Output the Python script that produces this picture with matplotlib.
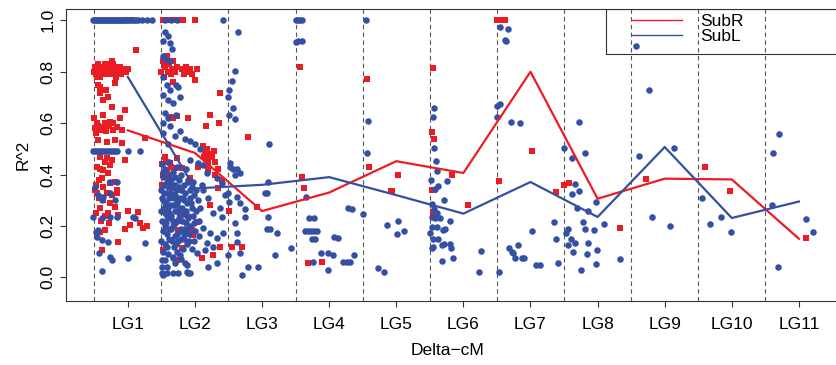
import matplotlib
matplotlib.use("Agg")
import matplotlib.pyplot as plt
from matplotlib.lines import Line2D
from matplotlib.patches import Rectangle

plt.rcParams['font.family'] = ['Liberation Sans', 'DejaVu Sans']

# linkage groups and per-group mean R^2 of each subgenome
lg_pos = [1, 2, 3, 4, 5, 6, 7, 8, 9, 10, 11]
lg_labels = ['LG1', 'LG2', 'LG3', 'LG4', 'LG5', 'LG6', 'LG7', 'LG8', 'LG9', 'LG10', 'LG11']
subr_mean = [0.572, 0.484, 0.258, 0.330, 0.452, 0.406, 0.800, 0.306, 0.384, 0.381, 0.150]
subl_mean = [0.780, 0.346, 0.360, 0.390, 0.320, 0.248, 0.371, 0.235, 0.507, 0.231, 0.295]

# single marker pairs (position, R^2), SubR
subr_points = [
    # LG1
    (0.50, 0.80), (0.51, 0.82), (0.52, 0.79), (0.53, 0.81), (0.55, 0.83), (0.56, 0.80), (0.58, 0.82),
    (0.60, 0.79), (0.62, 0.81), (0.64, 0.80), (0.66, 0.83), (0.68, 0.81), (0.70, 0.80), (0.72, 0.82),
    (0.74, 0.79), (0.76, 0.81), (0.78, 0.83), (0.80, 0.80), (0.82, 0.81), (0.84, 0.82), (0.86, 0.80),
    (0.88, 0.81), (0.90, 0.79), (0.92, 0.80), (0.95, 0.81), (0.98, 0.80), (1.01, 0.81), (0.54, 0.78),
    (0.59, 0.78), (0.65, 0.79), (0.71, 0.83), (0.77, 0.84), (0.83, 0.78), (0.89, 0.82),
    (1.01, 1.0), (1.05, 1.0), (1.12, 0.885),
    (0.59, 0.74), (0.68, 0.73), (0.81, 0.755), (0.63, 0.69), (0.70, 0.70), (0.56, 0.748),
    (0.59, 0.716), (0.76, 0.664), (0.63, 0.63), (0.96, 0.65), (0.54, 0.60), (0.73, 0.605), (0.84, 0.586),
    (0.88, 0.62), (0.51, 0.58), (0.56, 0.59), (0.60, 0.575), (0.64, 0.585), (0.68, 0.57), (0.72, 0.59),
    (0.78, 0.575), (0.91, 0.573), (1.26, 0.541), (0.56, 0.534), (0.69, 0.528), (0.81, 0.534), (0.91, 0.521),
    (0.59, 0.47), (0.69, 0.463), (0.76, 0.456), (0.96, 0.456), (0.54, 0.43), (0.63, 0.417), (0.73, 0.437),
    (0.62, 0.385), (0.70, 0.405), (0.63, 0.353), (0.73, 0.366), (0.81, 0.372), (0.51, 0.34), (0.69, 0.327),
    (0.84, 0.34), (0.54, 0.327), (0.63, 0.301), (0.84, 0.327), (0.59, 0.268), (0.81, 0.275), (0.70, 0.249),
    (0.85, 0.242), (1.00, 0.259), (1.15, 0.253), (0.59, 0.177), (0.66, 0.184), (0.85, 0.139), (1.03, 0.204),
    (0.96, 0.187), (1.18, 0.21), (1.23, 0.191), (1.29, 0.20), (0.62, 0.106), (0.52, 0.36), (0.57, 0.31),
    (0.66, 0.24), (0.74, 0.29), (0.60, 0.22), (0.54, 0.17), (0.50, 0.62), (0.52, 0.56), (0.66, 0.60),
    (0.78, 0.60), (0.58, 0.42), (0.66, 0.45), (0.57, 0.38), (0.77, 0.32), (0.52, 0.25), (0.72, 0.21),
    # LG2
    (1.52, 1.0), (1.60, 1.0), (1.66, 1.0), (1.70, 1.0), (1.75, 1.0), (1.79, 1.0), (1.82, 1.0), (2.00, 1.0),
    (1.50, 0.80), (1.52, 0.84), (1.54, 0.78), (1.56, 0.82), (1.58, 0.86), (1.60, 0.80), (1.62, 0.83),
    (1.64, 0.79), (1.66, 0.81), (1.68, 0.84), (1.71, 0.80), (1.74, 0.82), (1.81, 0.81), (1.84, 0.79),
    (1.87, 0.82), (1.90, 0.80), (1.93, 0.81), (1.96, 0.79), (2.03, 0.81), (2.00, 0.767), (1.68, 0.761),
    (2.37, 0.717), (1.63, 0.625), (1.68, 0.62), (1.74, 0.627), (1.90, 0.62), (2.22, 0.63), (2.17, 0.59),
    (2.36, 0.60), (2.12, 0.51), (2.15, 0.49), (2.18, 0.50), (2.22, 0.48), (2.25, 0.47), (2.28, 0.49),
    (2.20, 0.46), (2.30, 0.45), (2.14, 0.47), (2.20, 0.437), (2.20, 0.417), (2.34, 0.42), (2.30, 0.40),
    (2.40, 0.379), (2.34, 0.346), (1.55, 0.47), (1.63, 0.444), (1.73, 0.464), (1.58, 0.417), (1.70, 0.425),
    (1.52, 0.398), (1.81, 0.425), (2.05, 0.43), (1.93, 0.386), (1.67, 0.347), (1.81, 0.34), (2.22, 0.281),
    (1.60, 0.27), (1.85, 0.242), (1.97, 0.165), (2.03, 0.216), (1.55, 0.216), (1.75, 0.184), (1.63, 0.145),
    (1.52, 0.106), (1.81, 0.114), (2.11, 0.074), (2.27, 0.087), (1.96, 0.184), (1.73, 0.067), (2.37, 0.12),
    (1.51, 0.44), (1.54, 0.41), (1.57, 0.45), (1.60, 0.39), (1.65, 0.43), (1.51, 0.36),
    # LG3
    (2.79, 0.547), (2.51, 0.26), (2.93, 0.275), (2.55, 0.117), (2.70, 0.117),
    # LG4
    (3.57, 0.82), (3.60, 0.389), (3.63, 0.346), (3.69, 0.057), (3.89, 0.06),
    # LG5
    (4.57, 0.772), (4.60, 0.43), (4.92, 0.337), (4.94, 0.337), (5.03, 0.398),
    # LG6
    (5.55, 0.813), (5.53, 0.566), (5.56, 0.537), (5.53, 0.34), (5.56, 0.339), (5.55, 0.255), (5.61, 0.242),
    (5.83, 0.40), (6.07, 0.281),
    # LG7
    (6.50, 1.0), (6.53, 1.0), (6.56, 1.0), (6.59, 1.0), (6.62, 1.0), (6.53, 0.375), (7.02, 0.491), (7.38, 0.332),
    # LG8 - LG11
    (7.50, 0.361), (7.58, 0.368), (8.34, 0.193), (8.72, 0.384), (9.60, 0.43), (9.97, 0.337), (11.11, 0.152),
]

# SubL
subl_points = [
    # LG1
    (0.48, 1.0), (0.50, 1.0), (0.52, 1.0), (0.54, 1.0), (0.56, 1.0), (0.58, 1.0), (0.60, 1.0), (0.62, 1.0),
    (0.64, 1.0), (0.66, 1.0), (0.68, 1.0), (0.70, 1.0), (0.72, 1.0), (0.74, 1.0), (0.76, 1.0), (0.78, 1.0),
    (0.80, 1.0), (0.82, 1.0), (0.84, 1.0), (0.86, 1.0), (0.88, 1.0), (0.90, 1.0), (0.92, 1.0), (0.94, 1.0),
    (0.96, 1.0), (0.98, 1.0), (1.00, 1.0), (1.03, 1.0), (1.06, 1.0), (1.09, 1.0), (1.12, 1.0), (1.15, 1.0),
    (1.21, 1.0), (1.29, 1.0), (1.36, 1.0),
    (0.48, 0.49), (0.51, 0.49), (0.54, 0.49), (0.57, 0.49), (0.60, 0.49), (0.63, 0.49), (0.66, 0.49),
    (0.69, 0.49), (0.72, 0.49), (0.75, 0.49), (0.78, 0.49), (0.81, 0.49), (0.84, 0.49), (1.00, 0.49), (1.18, 0.49),
    (0.51, 0.353), (0.73, 0.37), (0.84, 0.372), (0.62, 0.30), (0.59, 0.313), (0.81, 0.30), (0.73, 0.327),
    (0.56, 0.32), (0.63, 0.314), (0.48, 0.236), (0.62, 0.231), (0.73, 0.235), (0.84, 0.236), (1.08, 0.233),
    (1.11, 0.23), (0.53, 0.177), (0.54, 0.158), (0.62, 0.145), (0.70, 0.139), (1.26, 0.132), (0.57, 0.096),
    (0.73, 0.08), (0.76, 0.067), (1.00, 0.074), (0.62, 0.025), (0.56, 0.184),
    # LG2
    (1.56, 1.0), (1.64, 1.0), (1.73, 1.0), (2.42, 1.0),
    (1.55, 0.955), (1.60, 0.94), (1.52, 0.92), (1.63, 0.91), (1.66, 0.89), (1.52, 0.86), (1.55, 0.85),
    (1.63, 0.84), (1.52, 0.78), (1.58, 0.75), (1.63, 0.73), (1.72, 0.75), (1.75, 0.74), (1.53, 0.71),
    (1.60, 0.69), (1.67, 0.68), (1.78, 0.70), (1.55, 0.64), (1.60, 0.62), (1.72, 0.63), (1.52, 0.60),
    (1.63, 0.59), (1.78, 0.57), (1.52, 0.56), (1.70, 0.55), (1.85, 0.54), (2.00, 0.52), (1.93, 0.53),
    (1.60, 0.52), (2.08, 0.50),
    (1.51, 0.44), (1.56, 0.42), (1.62, 0.45), (1.68, 0.41), (1.74, 0.43), (1.80, 0.40), (1.87, 0.42),
    (1.52, 0.39), (1.58, 0.37), (1.64, 0.38), (1.70, 0.36), (1.77, 0.38), (1.83, 0.36), (1.90, 0.37),
    (1.96, 0.35), (1.50, 0.34), (1.54, 0.33), (1.60, 0.35), (1.66, 0.32), (1.72, 0.34), (1.78, 0.31),
    (1.85, 0.33), (1.92, 0.31), (1.99, 0.32), (2.04, 0.30), (1.52, 0.30), (1.57, 0.29), (1.62, 0.31),
    (1.69, 0.28), (1.75, 0.30), (1.81, 0.27), (1.88, 0.29), (1.95, 0.27), (2.01, 0.26), (1.50, 0.26),
    (1.55, 0.25), (1.60, 0.27), (1.65, 0.24), (1.71, 0.26), (1.76, 0.23), (1.83, 0.25), (1.90, 0.23),
    (1.97, 0.24), (2.06, 0.22), (1.51, 0.22), (1.57, 0.21), (1.63, 0.23), (1.68, 0.20), (1.74, 0.22),
    (1.80, 0.19), (1.86, 0.21), (1.93, 0.20), (2.00, 0.18), (1.53, 0.18), (1.59, 0.17), (1.65, 0.19),
    (1.71, 0.16), (1.78, 0.18), (1.84, 0.15), (1.91, 0.17), (1.98, 0.14), (1.50, 0.14), (1.56, 0.13),
    (1.62, 0.15), (1.69, 0.12), (1.75, 0.14), (1.82, 0.11), (1.88, 0.13), (1.95, 0.11), (1.52, 0.10),
    (1.60, 0.09), (1.67, 0.08), (1.73, 0.10), (1.80, 0.07), (1.54, 0.36), (1.61, 0.40), (1.67, 0.35),
    (1.73, 0.29), (1.79, 0.34), (1.86, 0.26), (1.64, 0.28), (1.58, 0.24), (1.70, 0.21), (1.76, 0.27),
    (1.84, 0.30), (1.62, 0.19), (1.55, 0.29), (1.92, 0.34), (1.69, 0.31), (1.81, 0.22), (1.74, 0.17),
    (1.66, 0.14), (1.88, 0.18), (1.58, 0.12),
    (1.53, 0.41), (1.59, 0.33), (1.65, 0.36), (1.71, 0.39), (1.77, 0.25), (1.82, 0.31), (1.89, 0.24),
    (1.94, 0.29), (2.02, 0.34), (1.98, 0.21), (1.56, 0.20), (1.61, 0.25), (1.67, 0.22), (1.72, 0.13),
    (1.79, 0.15), (1.85, 0.19), (1.91, 0.14), (1.97, 0.37), (2.08, 0.27), (2.10, 0.36), (1.54, 0.27),
    (1.63, 0.33), (1.70, 0.32), (1.76, 0.35), (1.83, 0.17), (1.89, 0.38), (1.51, 0.31), (2.06, 0.16),
    (1.93, 0.456), (2.05, 0.444), (2.12, 0.437), (2.18, 0.405), (2.33, 0.386), (2.40, 0.366), (2.12, 0.34),
    (2.20, 0.309), (2.45, 0.32), (2.37, 0.27), (2.27, 0.25), (2.40, 0.236), (2.12, 0.192), (2.22, 0.172),
    (2.33, 0.153), (2.18, 0.133), (2.27, 0.119), (2.42, 0.172), (2.03, 0.094), (2.15, 0.106), (1.88, 0.048),
    (2.20, 0.041), (2.33, 0.055), (1.51, 0.067), (1.58, 0.041), (1.52, 0.009), (1.67, 0.017), (1.90, 0.017),
    (1.51, 0.016), (1.58, 0.016), (1.75, 0.016), (1.88, 0.022), (1.93, 0.016), (1.51, 0.041), (1.55, 0.067),
    (1.70, 0.054), (1.67, 0.074), (1.78, 0.087), (1.85, 0.054),
    # LG3
    (2.64, 0.954), (2.60, 0.804), (2.55, 0.765), (2.51, 0.73), (2.50, 0.703), (2.57, 0.658), (2.51, 0.631),
    (2.60, 0.616), (3.10, 0.519), (2.52, 0.43), (2.57, 0.42), (2.63, 0.42), (2.52, 0.444), (2.67, 0.405),
    (3.09, 0.37), (3.04, 0.327), (3.07, 0.327), (2.50, 0.33), (2.63, 0.313), (2.51, 0.294), (2.67, 0.289),
    (2.75, 0.265), (2.75, 0.236), (2.60, 0.21), (2.63, 0.172), (3.09, 0.236), (3.07, 0.187), (3.12, 0.187),
    (3.22, 0.172), (2.50, 0.087), (2.63, 0.139), (2.67, 0.094), (2.79, 0.041), (2.94, 0.041), (2.70, 0.009),
    (3.19, 0.087), (3.43, 0.114), (2.60, 0.398),
    # LG4
    (3.51, 1.0), (3.54, 1.0), (3.57, 1.0), (3.60, 1.0), (3.51, 0.917), (3.54, 0.92), (3.60, 0.92),
    (3.66, 0.314), (3.70, 0.23), (3.78, 0.23), (3.64, 0.18), (3.69, 0.18), (3.73, 0.18), (3.78, 0.18),
    (3.82, 0.18), (3.75, 0.148), (3.79, 0.148), (3.76, 0.061), (3.88, 0.094), (3.98, 0.028), (3.98, 0.094),
    (4.06, 0.087), (4.07, 0.158), (4.13, 0.155), (4.21, 0.061), (4.27, 0.058), (4.31, 0.058), (4.28, 0.268),
    (4.34, 0.266), (4.37, 0.087),
    # LG5
    (4.55, 1.0), (4.58, 0.608), (4.57, 0.482), (4.51, 0.245), (4.73, 0.035), (4.81, 0.022), (4.86, 0.203),
    (5.03, 0.219), (5.01, 0.168), (5.12, 0.18),
    # LG6
    (5.56, 0.66), (5.55, 0.625), (5.56, 0.505), (5.59, 0.454), (5.61, 0.414), (5.52, 0.379), (5.62, 0.355),
    (5.58, 0.343), (5.76, 0.376), (5.71, 0.30), (5.53, 0.285), (5.56, 0.267), (5.61, 0.25), (5.53, 0.236),
    (5.58, 0.23), (5.65, 0.23), (5.80, 0.22), (5.53, 0.197), (5.61, 0.197), (5.70, 0.184), (5.73, 0.19),
    (5.50, 0.171), (5.55, 0.148), (5.62, 0.148), (5.68, 0.126), (5.71, 0.13), (5.80, 0.13), (5.55, 0.119),
    (5.82, 0.113), (5.53, 0.113), (5.68, 0.065), (5.85, 0.074), (6.23, 0.022), (6.26, 0.104),
    # LG7
    (6.55, 0.975), (6.67, 0.965), (6.62, 0.923), (6.64, 0.918), (6.50, 0.667), (6.55, 0.673), (6.50, 0.625),
    (6.71, 0.603), (6.85, 0.599), (7.02, 0.181), (6.68, 0.113), (6.82, 0.126), (6.73, 0.10), (6.74, 0.093),
    (6.77, 0.074), (6.88, 0.074), (6.91, 0.074), (6.53, 0.022), (7.08, 0.048), (7.14, 0.048), (7.35, 0.216),
    (7.38, 0.149), (7.41, 0.054),
    # LG8
    (7.72, 0.603), (7.50, 0.502), (7.81, 0.482), (7.62, 0.465), (7.67, 0.363), (7.72, 0.336), (7.62, 0.323),
    (7.69, 0.271), (7.86, 0.259), (7.98, 0.294), (7.78, 0.214), (7.81, 0.19), (7.95, 0.184), (8.10, 0.207),
    (7.56, 0.188), (7.53, 0.171), (7.61, 0.149), (7.67, 0.132), (7.56, 0.126), (7.64, 0.10), (7.86, 0.132),
    (7.84, 0.091), (7.99, 0.106), (7.98, 0.052), (7.75, 0.028), (8.34, 0.071),
    # LG9
    (8.57, 0.901), (8.77, 0.729), (8.62, 0.472), (9.14, 0.502), (8.81, 0.236), (9.08, 0.201),
    # LG10
    (9.56, 0.31), (9.68, 0.207), (9.84, 0.236), (9.99, 0.175),
    # LG11
    (10.70, 0.558), (10.61, 0.485), (10.60, 0.283), (10.69, 0.041), (11.11, 0.226), (11.21, 0.177),
]

red = '#EC1C24'
blue = '#3450A5'

fig = plt.figure(figsize=(8.37, 3.65), dpi=100)
# plot box runs past the right edge of the picture, as in the cropped original
ax = fig.add_axes([66 / 837, 1 - 301 / 365, 794 / 837, 291.7 / 365])

for lg in lg_pos:
    ax.axvline(lg - 0.5, color='#555555', lw=0.8, ls=(0, (4, 3)), zorder=1)

rx, ry = zip(*subr_points)
bx, by = zip(*subl_points)
ax.scatter(rx, ry, marker='s', s=19, color=red, linewidths=0, zorder=2)
ax.scatter(bx, by, marker='o', s=22, color=blue, linewidths=0, zorder=3)

ax.plot(lg_pos, subr_mean, color=red, lw=1.6, zorder=4)
ax.plot(lg_pos, subl_mean, color=blue, lw=1.6, zorder=4)

ax.set_xlim(0.079, 11.91)
ax.set_ylim(-0.092, 1.043)
ax.set_xticks(lg_pos)
ax.set_xticklabels(lg_labels)
ax.set_yticks([0.0, 0.2, 0.4, 0.6, 0.8, 1.0])
ax.set_yticklabels(['0.0', '0.2', '0.4', '0.6', '0.8', '1.0'], rotation=90, va='center')
ax.tick_params(axis='x', length=4.5, width=0.8, pad=7, labelsize=12.5, color='#333333')
ax.tick_params(axis='y', length=4.5, width=0.8, pad=3, labelsize=12.5, color='#333333')
for sp in ax.spines.values():
    sp.set_linewidth(0.8)
    sp.set_color('#333333')

ax.set_xlabel('Delta\u2212cM', fontsize=12.5)
ax.xaxis.set_label_coords(0.48, -0.145)
ax.set_ylabel('R^2', fontsize=12.5)
ax.yaxis.set_label_coords(-0.045, 0.5)

# legend frame at the top right, transparent
ax.add_patch(Rectangle((0.680, 0.846), 0.34, 0.154, transform=ax.transAxes,
                       fill=False, lw=0.8, edgecolor='#333333', zorder=5))
handles = [Line2D([], [], color=red, lw=1.0), Line2D([], [], color=blue, lw=1.0)]
ax.legend(handles, ['SubR', 'SubL'], loc='upper left', bbox_to_anchor=(0.713, 0.985),
          frameon=False, fontsize=12.5, borderpad=0, borderaxespad=0, labelspacing=0.0,
          handlelength=2.9, handletextpad=1.0)

fig.savefig('out.png', dpi=100)
